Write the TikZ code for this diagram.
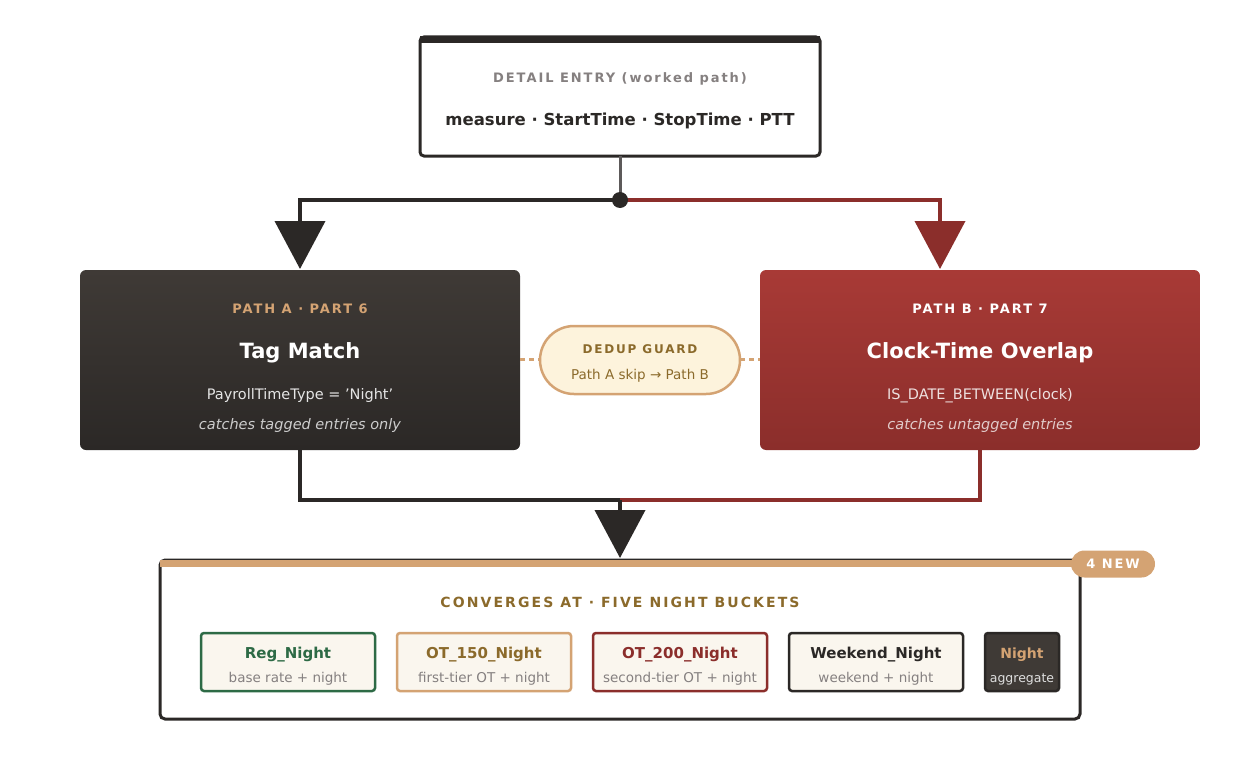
\documentclass[tikz,border=0pt]{standalone}
\usepackage{fontspec}
\setmainfont{DejaVu Sans}
\newfontfamily\spaced[LetterSpace=15]{DejaVu Sans}
\usetikzlibrary{arrows.meta,shapes.misc}
\definecolor{dk}{HTML}{2B2826}
\definecolor{dkt}{HTML}{3F3A36}
\definecolor{rd}{HTML}{8B2E2B}
\definecolor{rdt}{HTML}{A83A36}
\definecolor{tan}{HTML}{D4A373}
\definecolor{brn}{HTML}{8B6A2B}
\definecolor{grn}{HTML}{2D6A45}
\definecolor{cream}{HTML}{FAF6EE}
\definecolor{pill}{HTML}{FDF3DC}
\definecolor{gr}{HTML}{858080}
\begin{document}
\begin{tikzpicture}[x=1pt,y=-1pt,
  big/.style={-{Triangle[width=50pt,length=48pt]},line width=4pt},
  bucket/.style={draw,line width=2.5pt,rounded corners=3pt,fill=cream,minimum width=174pt,minimum height=58pt},
  t/.style={inner sep=0pt,anchor=base}]
\useasboundingbox (0,0) rectangle (1240,760);
% top box
\draw[dk,line width=3pt,rounded corners=4pt,fill=white] (420,37) rectangle (820,156);
\fill[dk] (420,36) rectangle (820,43);
\node[t,text=gr] (te) at (620,82) {\fontsize{13}{15}\spaced\bfseries DETAIL ENTRY (worked path)};
\node[t,text=dk] (tm) at (620,125) {\fontsize{16.5}{18}\selectfont\bfseries measure · StartTime · StopTime · PTT};
\coordinate (top) at (620,156);
\coordinate (j) at (620,200);
% box A
\shade[top color=dkt,bottom color=dk,rounded corners=6pt] (80,270) rectangle (520,450);
\node[t,text=tan] at (300,313) {\fontsize{13}{15}\spaced\bfseries PATH A · PART 6};
\node[t,text=white] (A) at (300,358) {\fontsize{21}{24}\selectfont\bfseries Tag Match};
\node[t,text=white!80!gray] at (300,399) {\fontsize{14.5}{17}\selectfont PayrollTimeType = 'Night'};
\node[t,text=white!60!gray] at (300,429) {\fontsize{14.5}{17}\selectfont\itshape catches tagged entries only};
% box B
\shade[top color=rdt,bottom color=rd,rounded corners=6pt] (760,270) rectangle (1200,450);
\node[t,text=white] at (980,313) {\fontsize{13}{15}\spaced\bfseries PATH B · PART 7};
\node[t,text=white] (B) at (980,358) {\fontsize{21}{24}\selectfont\bfseries Clock-Time Overlap};
\node[t,text=white!85!rd] at (980,399) {\fontsize{14.5}{17}\selectfont IS\_DATE\_BETWEEN(clock)};
\node[t,text=white!75!rd] at (980,429) {\fontsize{14.5}{17}\selectfont\itshape catches untagged entries};
% dedup
\draw[tan,line width=3pt,dash pattern=on 5pt off 4pt] (520,359) -- (540,359) (740,359) -- (760,359);
\node[draw=tan,line width=2.5pt,fill=pill,rounded rectangle,minimum width=200pt,minimum height=68pt,inner sep=0pt] (dd) at (640,360) {};
\node[t,text=brn] at (640,353) {\fontsize{12}{14}\spaced\bfseries DEDUP GUARD};
\node[t,text=brn] at (640,379) {\fontsize{13.5}{16}\selectfont Path A skip → Path B};
% top connectors
\draw[gr!70!black,line width=3pt] (top) -- (j);
\draw[big,dk] (j) -- (300,200) -- (300,269);
\draw[big,rd] (j) -- (940,200) -- (940,269);
\fill[dk] (j) circle (8pt);
% bottom box
\draw[dk,line width=3pt,rounded corners=5pt,fill=white] (160,560) rectangle (1080,719);
\fill[tan] (160,560) rectangle (1080,567);
\node[fill=tan,rounded rectangle,minimum width=84pt,minimum height=27pt,inner sep=0pt,text=white] (nw) at (1113,564) {\fontsize{13}{15}\spaced\bfseries 4 NEW};
\node[t,text=brn] at (620,607) {\fontsize{14}{16}\spaced\bfseries CONVERGES AT · FIVE NIGHT BUCKETS};
% bottom connectors
\coordinate (m) at (620,500);
\draw[dk,line width=4pt] (300,450) -- (300,500) -- (m);
\draw[rd,line width=4pt] (980,450) -- (980,500) -- (m);
\draw[big,dk] (m) -- (620,558);
% buckets
\node[bucket,draw=grn] (b1) at (288,662) {};
\node[t,text=grn] at (288,658) {\fontsize{15}{17}\selectfont\bfseries Reg\_Night};
\node[t,text=gr] at (288,682) {\fontsize{13.5}{16}\selectfont base rate + night};
\node[bucket,draw=tan] (b2) at (484,662) {};
\node[t,text=brn] at (484,658) {\fontsize{15}{17}\selectfont\bfseries OT\_150\_Night};
\node[t,text=gr] at (484,682) {\fontsize{13.5}{16}\selectfont first-tier OT + night};
\node[bucket,draw=rd] (b3) at (680,662) {};
\node[t,text=rd] at (680,658) {\fontsize{15}{17}\selectfont\bfseries OT\_200\_Night};
\node[t,text=gr] at (680,682) {\fontsize{13.5}{16}\selectfont second-tier OT + night};
\node[bucket,draw=dk] (b4) at (876,662) {};
\node[t,text=dk] at (876,658) {\fontsize{15}{17}\selectfont\bfseries Weekend\_Night};
\node[t,text=gr] at (876,682) {\fontsize{13.5}{16}\selectfont weekend + night};
\node[bucket,draw=dk,fill=dkt,minimum width=74pt] (b5) at (1022,662) {};
\node[t,text=tan] at (1022,658) {\fontsize{14}{17}\selectfont\bfseries Night};
\node[t,text=white!75!gray] at (1022,682) {\fontsize{12.5}{15}\selectfont aggregate};
\end{tikzpicture}
\end{document}
